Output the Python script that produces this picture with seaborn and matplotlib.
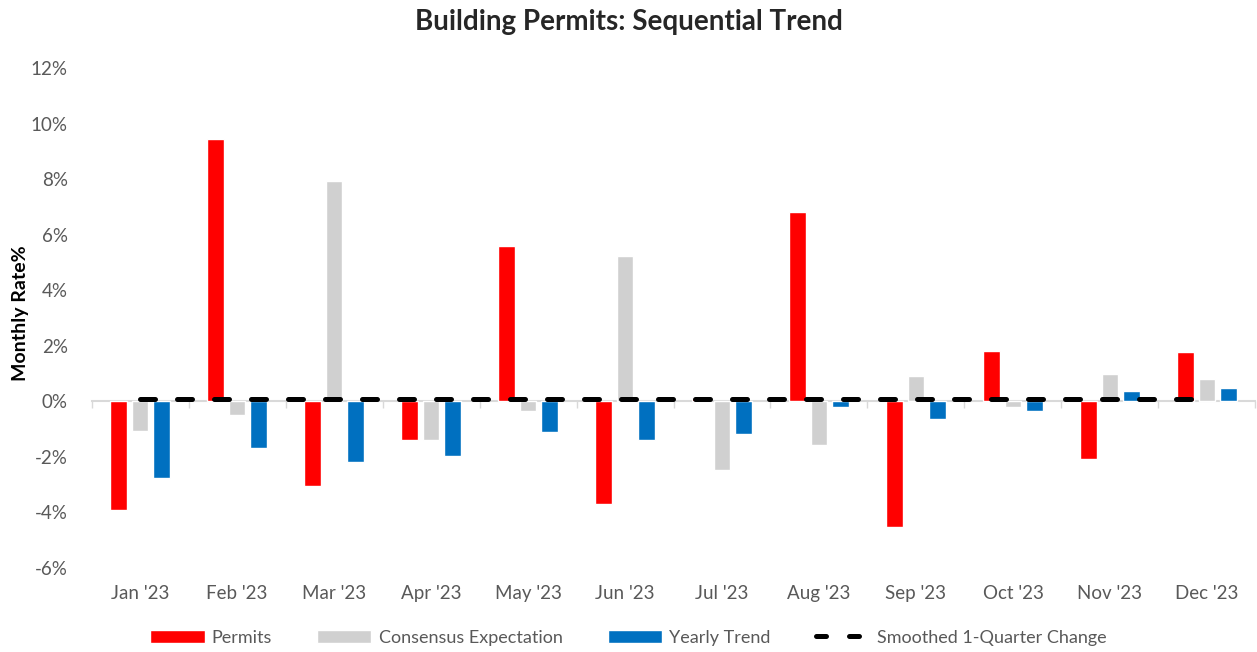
import numpy as np
import pandas as pd
import matplotlib
matplotlib.use("Agg")
import matplotlib.pyplot as plt
import seaborn as sns
from matplotlib.ticker import FuncFormatter

months = ["Jan '23", "Feb '23", "Mar '23", "Apr '23", "May '23", "Jun '23",
          "Jul '23", "Aug '23", "Sep '23", "Oct '23", "Nov '23", "Dec '23"]
permits = [-3.9, 9.45, -3.05, -1.4, 5.58, -3.7, 0.12, 6.8, -4.53, 1.82, -2.08, 1.78]
consensus = [-1.08, -0.5, 7.95, -1.4, -0.36, 5.25, -2.48, -1.58, 0.9, -0.2, 1.0, 0.8]
yearly = [-2.77, -1.69, -2.19, -1.97, -1.1, -1.4, -1.17, -0.2, -0.64, -0.33, 0.36, 0.47]
smoothed = [0.08] * 12
series_names = ["Permits", "Consensus Expectation", "Yearly Trend"]
line_name = "Smoothed 1-Quarter Change"
colors = ["#FF0000", "#D0D0D0", "#0070C0"]

sns.set_theme(style="white")
plt.rcParams['font.family'] = ['Lato', 'DejaVu Sans']

df = pd.DataFrame({
    "month": months * 3,
    "value": permits + consensus + yearly,
    "series": [series_names[0]] * 12 + [series_names[1]] * 12 + [series_names[2]] * 12,
})

fig = plt.figure(figsize=(12.57, 6.52), dpi=100)
ax = fig.add_axes([0.0728, 0.1288, 0.926, 0.7669])

sns.barplot(data=df, x="month", y="value", hue="series", order=months,
            hue_order=series_names, palette=colors, width=0.66, gap=0.23,
            saturation=1, ax=ax, legend=True, zorder=2)

sns.lineplot(x=np.arange(len(months)), y=smoothed, ax=ax, color="black",
             linewidth=3.6, zorder=5, label=line_name)
for ln in ax.get_lines():
    ln.set_linestyle((0, (3, 4.4)))
    ln.set_dash_capstyle("round")

ax.set_ylim(-6, 12)
ax.set_xlim(-0.5, 11.5)
ax.set_yticks(np.arange(-6, 13, 2))
ax.yaxis.set_major_formatter(FuncFormatter(lambda v, p: f"{int(round(v))}%"))
for s in ax.spines.values():
    s.set_visible(False)
ax.tick_params(axis="y", length=0, pad=17, labelsize=13.5, labelcolor="#595959")
ax.tick_params(axis="x", length=0, pad=12, labelsize=13.5, labelcolor="#595959")
ax.set_xlabel("")
ax.set_ylabel("Monthly Rate%", fontsize=14, fontweight="bold", color="black")
ax.yaxis.set_label_coords(-0.054, 0.51)

# zero axis line with boundary ticks
sec = ax.secondary_xaxis(6 / 18)
sec.set_xticks(np.arange(-0.5, 12, 1))
sec.set_xticklabels([])
sec.tick_params(direction="out", length=5, width=1, color="#D9D9D9")
sec.spines["bottom"].set_color("#D9D9D9")
sec.spines["bottom"].set_linewidth(1.5)
sec.set_zorder(1)

fig.suptitle("Building Permits: Sequential Trend", fontsize=20, fontweight="bold",
             y=0.986, x=0.5)

handles, labels = ax.get_legend_handles_labels()
ax.get_legend().remove()
leg = fig.legend(handles, labels, loc="center", bbox_to_anchor=(0.5, 0.022), ncol=4,
                 frameon=False, fontsize=13, handlelength=3.0, handleheight=0.75,
                 handletextpad=0.4, columnspacing=2.5)
for t in leg.get_texts():
    t.set_color("#595959")
for h in leg.legend_handles:
    if hasattr(h, "set_dash_capstyle"):
        h.set_linestyle((0, (2.0, 4.6)))
        h.set_dash_capstyle("round")

fig.savefig("out.png", dpi=100)
